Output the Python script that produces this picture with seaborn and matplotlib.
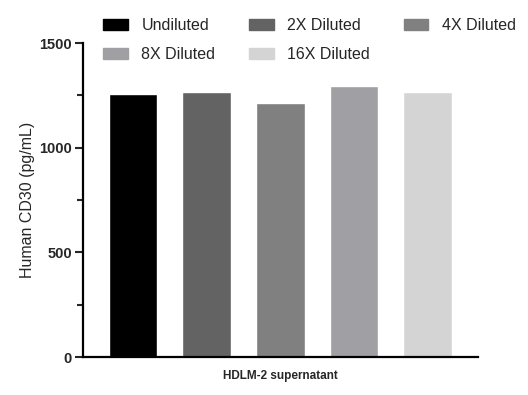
import matplotlib
matplotlib.use("Agg")
import matplotlib.pyplot as plt
import matplotlib.patches as mpatches
import seaborn as sns
import pandas as pd

# data
groups = ["Undiluted", "2X Diluted", "4X Diluted", "8X Diluted", "16X Diluted"]
values = [1256, 1266, 1213, 1295, 1266]
colors = ["#000000", "#636363", "#808080", "#A0A0A4", "#D4D4D4"]

sns.set_theme(style="white")
plt.rcParams["font.family"] = ["Liberation Sans", "DejaVu Sans"]

df = pd.DataFrame({"group": groups, "value": values})

fig = plt.figure(figsize=(5.28, 3.95), dpi=100)
ax = fig.add_axes([0.157, 0.096, 0.748, 0.795])

sns.barplot(data=df, x="group", y="value", hue="group", palette=colors,
            order=groups, hue_order=groups, width=0.66, legend=False,
            saturation=1, ax=ax)

ax.set_xlim(-0.68, 4.68)
ax.set_ylim(0, 1500)
ax.set_yticks([0, 500, 1000, 1500])
ax.set_yticks([250, 750, 1250], minor=True)
ax.set_xticks([])
ax.set_xlabel("HDLM-2 supernatant", fontsize=8.5, fontweight="bold", labelpad=9)
ax.set_ylabel("Human CD30 (pg/mL)", fontsize=11.5, labelpad=3)

for lbl in ax.get_yticklabels():
    lbl.set_fontweight("bold")
ax.tick_params(axis="y", which="major", length=6, width=1.5, labelsize=10.5, left=True, pad=2)
ax.tick_params(axis="y", which="minor", length=4, width=1.5, left=True)

sns.despine(ax=ax)
for s in ["left", "bottom"]:
    ax.spines[s].set_linewidth(1.6)
    ax.spines[s].set_color("black")

# legend laid out row by row: reorder for column-major fill
handles = [mpatches.Patch(color=c, label=g) for g, c in zip(groups, colors)]
order = [0, 3, 1, 4, 2]
fig.legend([handles[i] for i in order], [groups[i] for i in order],
           ncol=3, loc="upper left", bbox_to_anchor=(0.168, 0.99),
           frameon=False, fontsize=11.5, handlelength=1.55, handleheight=0.7,
           columnspacing=2.1, labelspacing=0.85, handletextpad=0.85)

fig.savefig("out.png", dpi=100)
